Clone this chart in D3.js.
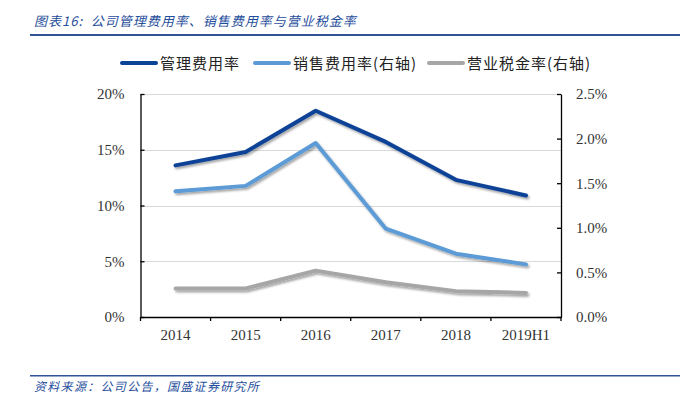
<!DOCTYPE html>
<html>
<head>
<meta charset="utf-8">
<script src="https://cdnjs.cloudflare.com/ajax/libs/d3/7.8.5/d3.min.js"></script>
<style>
  body { margin: 0; background: #fff; }
</style>
</head>
<body>
<div id="chart"></div>
<script>
let years = ['2014', '2015', '2016', '2017', '2018', '2019H1'];
let mgmtRate = [13.6, 14.8, 18.5, 15.7, 12.3, 10.9];      // left axis, %
let salesRate = [1.41, 1.47, 1.95, 0.99, 0.71, 0.59];     // right axis, %
let taxRate = [0.32, 0.32, 0.52, 0.39, 0.29, 0.27];       // right axis, %
let leftTicks = [0, 5, 10, 15, 20];
let rightTicks = [0, 0.5, 1.0, 1.5, 2.0, 2.5];

let series = [
    { name: '管理费用率', values: mgmtRate, axis: 'left', color: '#0b4397' },
    { name: '销售费用率(右轴)', values: salesRate, axis: 'right', color: '#5b9bd5' },
    { name: '营业税金率(右轴)', values: taxRate, axis: 'right', color: '#a6a6a6' }
];

let width = 680;
let height = 399;
let plotLeft = 140.5, plotRight = 561, plotTop = 94, plotBottom = 317;

let svg = d3.select('#chart').append('svg')
            .attr('width', width)
            .attr('height', height);

let defs = svg.append('defs');
let filter = defs.append('filter')
    .attr('id', 'shadow')
    .attr('x', '-10%').attr('y', '-20%')
    .attr('width', '120%').attr('height', '140%');
filter.append('feDropShadow')
    .attr('dx', 1.5).attr('dy', 2)
    .attr('stdDeviation', 1.2)
    .attr('flood-color', '#000')
    .attr('flood-opacity', 0.35);

// title
svg.append('text')
    .attr('x', 34).attr('y', 26)
    .attr('font-family', "'Noto Sans CJK SC', sans-serif")
    .attr('font-style', 'italic')
    .attr('font-size', 13)
    .attr('letter-spacing', 1)
    .attr('fill', '#1f4e9c')
    .attr('xml:space', 'preserve')
    .text('图表16:  公司管理费用率、销售费用率与营业税金率');

svg.append('rect')
    .attr('x', 30).attr('y', 34)
    .attr('width', 650).attr('height', 2)
    .attr('fill', '#2f5597');

// footer
svg.append('rect')
    .attr('x', 30).attr('y', 375)
    .attr('width', 650).attr('height', 1.5)
    .attr('fill', '#2f5597');

svg.append('text')
    .attr('x', 34).attr('y', 391)
    .attr('font-family', "'Noto Sans CJK SC', sans-serif")
    .attr('font-style', 'italic')
    .attr('font-size', 12)
    .attr('letter-spacing', 1.3)
    .attr('fill', '#1f4e9c')
    .text('资料来源：公司公告，国盛证券研究所');

let x = d3.scaleBand()
          .domain(years)
          .range([plotLeft, plotRight]);

let yLeft = d3.scaleLinear()
              .domain([0, 20])
              .range([plotBottom, plotTop]);

let yRight = d3.scaleLinear()
               .domain([0, 2.5])
               .range([plotBottom, plotTop]);

// gridlines
svg.append('g')
    .selectAll('line')
    .data(leftTicks.slice(1))
    .join('line')
    .attr('x1', plotLeft).attr('x2', plotRight)
    .attr('y1', d => Math.round(yLeft(d)) + 0.5)
    .attr('y2', d => Math.round(yLeft(d)) + 0.5)
    .attr('stroke', '#d9d9d9')
    .attr('stroke-width', 1);

let tickFont = "'Liberation Serif', 'Times New Roman', serif";

let leftAxis = svg.append('g')
    .attr('transform', `translate(${plotLeft},0)`)
    .call(d3.axisLeft(yLeft).tickValues(leftTicks).tickFormat(d => d + '%').tickSizeInner(-4).tickSizeOuter(0).tickPadding(16));

let rightAxis = svg.append('g')
    .attr('transform', `translate(${plotRight},0)`)
    .call(d3.axisRight(yRight).tickValues(rightTicks).tickFormat(d => d.toFixed(1) + '%').tickSizeInner(-4).tickSizeOuter(0).tickPadding(15));

let bottomAxis = svg.append('g')
    .attr('transform', `translate(0,${plotBottom})`)
    .call(d3.axisBottom(x).tickSize(0).tickPadding(12));

// band boundary ticks on the x axis
svg.append('g')
    .selectAll('line')
    .data(years.map(d => x(d)).concat([plotRight]))
    .join('line')
    .attr('x1', d => d).attr('x2', d => d)
    .attr('y1', plotBottom).attr('y2', plotBottom + 4)
    .attr('stroke', '#000')
    .attr('stroke-width', 1.3);

[leftAxis, rightAxis, bottomAxis].forEach(a => {
    a.select('.domain').attr('stroke', '#000').attr('stroke-width', 1.3);
    a.selectAll('.tick line').attr('stroke', '#000').attr('stroke-width', 1.3);
    a.selectAll('text')
        .attr('font-family', tickFont)
        .attr('font-size', 15)
        .attr('fill', '#333');
});

// lines
let lines = svg.append('g').attr('filter', 'url(#shadow)');
series.slice().reverse().forEach(s => {
    let yScale = s.axis === 'left' ? yLeft : yRight;
    let line = d3.line()
                 .x((d, i) => x(years[i]) + x.bandwidth() / 2)
                 .y(d => yScale(d));
    lines.append('path')
        .datum(s.values)
        .attr('d', line)
        .attr('fill', 'none')
        .attr('stroke', s.color)
        .attr('stroke-width', 4)
        .attr('stroke-linejoin', 'round')
        .attr('stroke-linecap', 'round');
});

// legend
let legendX = [122, 255, 429];
let legend = svg.append('g');
series.forEach((s, i) => {
    legend.append('line')
        .attr('x1', legendX[i]).attr('x2', legendX[i] + 34)
        .attr('y1', 63).attr('y2', 63)
        .attr('stroke', s.color)
        .attr('stroke-width', 4)
        .attr('stroke-linecap', 'round');
    legend.append('text')
        .attr('x', legendX[i] + 38)
        .attr('y', 69)
        .attr('font-family', "'Noto Sans CJK SC', sans-serif")
        .attr('font-size', 15)
        .attr('letter-spacing', 1)
        .attr('fill', '#222')
        .text(s.name);
});
</script>
</body>
</html>
